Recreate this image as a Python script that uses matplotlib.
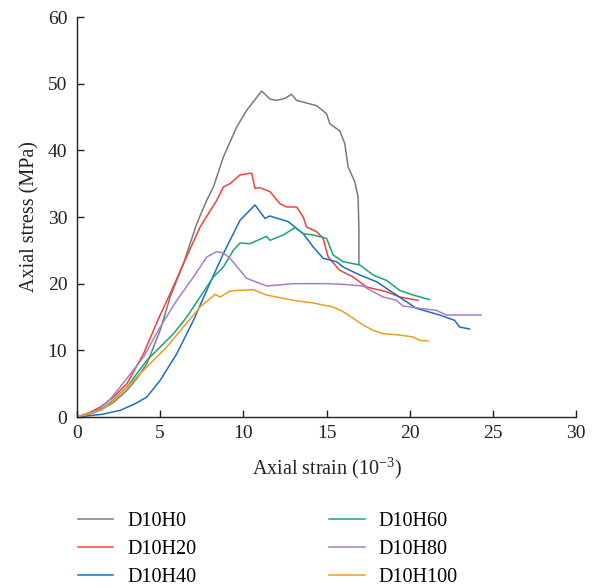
import matplotlib
matplotlib.use("Agg")
import matplotlib.pyplot as plt

plt.rcParams['font.family'] = ['Liberation Serif', 'DejaVu Serif']
plt.rcParams['mathtext.fontset'] = 'custom'
plt.rcParams['mathtext.rm'] = 'Liberation Serif'

labels = ["D10H0", "D10H20", "D10H40", "D10H60", "D10H80", "D10H100"]
colors = ["#7a7a7a", "#f2433a", "#1b6ec2", "#18a772", "#a77fc9", "#e8a11f"]

h0_x = [0, 0.7, 1.4, 2.2, 3.0, 3.6, 4.2, 5.0, 5.6, 6.4, 7.2, 7.8, 8.2, 8.8, 9.6, 10.2, 10.7, 11.1, 11.6, 12.0, 12.5, 12.9, 13.2, 14.4, 15.0, 15.2, 15.8, 16.1, 16.3, 16.7, 16.9, 16.95, 16.95]
h0_y = [0, 0.4, 1.0, 2.2, 4.0, 5.8, 8.0, 13.0, 18.0, 23.0, 29.0, 32.5, 34.5, 39.0, 43.5, 46.0, 47.6, 48.9, 47.7, 47.5, 47.8, 48.4, 47.5, 46.7, 45.5, 44.0, 42.9, 41.0, 37.5, 35.3, 33.0, 28.0, 23.0]

h20_x = [0, 0.7, 1.4, 2.2, 3.0, 4.0, 5.0, 5.6, 6.4, 7.4, 8.4, 8.8, 9.2, 9.8, 10.3, 10.5, 10.7, 11.0, 11.6, 12.2, 12.6, 13.2, 13.6, 13.8, 14.4, 14.8, 15.1, 15.8, 16.6, 17.4, 18.6, 19.4, 20.5]
h20_y = [0, 0.6, 1.5, 3.0, 5.0, 9.5, 15.3, 18.5, 23.0, 28.5, 32.5, 34.5, 35.0, 36.3, 36.5, 36.6, 34.3, 34.4, 33.8, 32.0, 31.5, 31.5, 30.0, 28.5, 27.8, 26.8, 24.0, 22.0, 21.0, 19.5, 18.8, 18.0, 17.5]

h40_x = [0, 1.5, 2.6, 3.5, 4.2, 5.0, 6.0, 7.0, 7.8, 8.8, 9.8, 10.7, 11.3, 11.6, 12.7, 13.6, 14.2, 14.8, 15.6, 16.0, 17.0, 18.0, 19.2, 20.4, 21.8, 22.7, 23.0, 23.6]
h40_y = [0, 0.4, 1.0, 2.0, 3.0, 5.5, 9.5, 14.5, 19.0, 24.5, 29.5, 31.8, 29.8, 30.15, 29.3, 27.5, 25.5, 23.8, 23.3, 22.5, 21.3, 20.3, 18.3, 16.3, 15.3, 14.5, 13.5, 13.2]

h60_x = [0, 0.8, 1.5, 2.2, 3.0, 4.2, 5.0, 5.8, 6.6, 7.4, 8.2, 8.8, 9.4, 9.8, 10.4, 11.4, 11.6, 12.4, 13.1, 13.6, 14.2, 15.0, 15.4, 16.0, 17.0, 17.8, 18.6, 19.4, 20.2, 21.2]
h60_y = [0, 0.5, 1.2, 2.6, 4.5, 8.5, 10.5, 12.5, 15.0, 18.0, 21.0, 22.5, 25.0, 26.1, 26.0, 27.1, 26.5, 27.3, 28.4, 27.5, 27.3, 26.8, 24.3, 23.3, 22.8, 21.3, 20.5, 19.0, 18.3, 17.6]

h80_x = [0, 0.7, 1.4, 2.0, 2.6, 4.0, 5.0, 6.0, 7.0, 7.8, 8.4, 8.8, 9.2, 9.8, 10.2, 11.4, 13.0, 15.0, 16.0, 17.2, 17.8, 18.4, 19.2, 19.6, 20.6, 21.6, 22.2, 24.3]
h80_y = [0, 0.5, 1.3, 2.7, 4.5, 9.0, 13.5, 17.5, 21.0, 24.0, 24.8, 24.6, 23.8, 22.0, 20.8, 19.65, 20.0, 20.0, 19.9, 19.65, 18.8, 18.0, 17.5, 16.65, 16.3, 16.0, 15.3, 15.3]

h100_x = [0, 0.8, 1.5, 2.2, 3.0, 4.4, 5.4, 6.4, 7.4, 8.3, 8.6, 9.2, 9.8, 10.6, 11.4, 13.0, 14.2, 15.4, 16.0, 16.6, 17.2, 17.8, 18.4, 19.4, 20.2, 20.6, 21.1]
h100_y = [0, 0.5, 1.1, 2.5, 4.5, 8.0, 10.5, 13.5, 16.5, 18.4, 18.0, 18.9, 19.0, 19.1, 18.3, 17.5, 17.1, 16.5, 15.8, 14.8, 13.8, 13.0, 12.5, 12.3, 12.0, 11.5, 11.4]

xs = [h0_x, h20_x, h40_x, h60_x, h80_x, h100_x]
ys = [h0_y, h20_y, h40_y, h60_y, h80_y, h100_y]

fig = plt.figure(figsize=(5.96, 5.88), dpi=100)
ax = fig.add_axes([77/596, 1 - 417/588, (576 - 77)/596, (417 - 17)/588])

handles = []
for x, y, c, lab in zip(xs, ys, colors, labels):
    h, = ax.plot(x, y, color=c, lw=1.1, label=lab)
    handles.append(h)

ax.set_xlim(0, 30)
ax.set_ylim(0, 60)
ax.set_xticks(range(0, 31, 5))
ax.set_yticks(range(0, 61, 10))
for s in ["top", "right"]:
    ax.spines[s].set_visible(False)
for s in ["left", "bottom"]:
    ax.spines[s].set_linewidth(1.0)
    ax.spines[s].set_color("#222222")
ax.tick_params(direction="in", length=5, width=1.0, labelsize=14, colors="#222222")
ax.tick_params(axis="x", pad=6)
ax.tick_params(axis="y", pad=7)
ax.set_xlabel("Axial strain ($10^{-3}$)", fontsize=14.5, color="#222222", labelpad=9)
ax.set_ylabel("Axial stress (MPa)", fontsize=14.5, color="#222222", labelpad=6)

fig.legend(handles, labels, ncol=2, loc="upper left", bbox_to_anchor=(70/596, 1 - 504/588),
           frameon=False, fontsize=14.5, handlelength=1.75, handletextpad=0.7,
           columnspacing=6.6, labelspacing=0.45, borderaxespad=0)

fig.savefig("out.png", dpi=100)
